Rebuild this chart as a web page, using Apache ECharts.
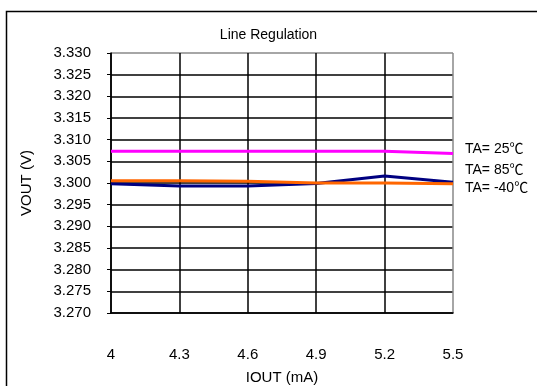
<!DOCTYPE html>
<html>
<head>
<meta charset="utf-8">
<script src="https://cdn.jsdelivr.net/npm/echarts@6/dist/echarts.min.js"></script>
<style>
  html, body { margin: 0; padding: 0; background: #fff; }
  #chart { width: 537px; height: 386px; }
</style>
</head>
<body>
<div id="chart"></div>
<script>
// IOUT (mA)
var iout = ['4', '4.3', '4.6', '4.9', '5.2', '5.5']
// VOUT (V) per temperature
var ta25 = [3.3073, 3.3073, 3.3073, 3.3073, 3.3073, 3.3068]
var ta85 = [3.2998, 3.2993, 3.2993, 3.2999, 3.3016, 3.3002]
var taM40 = [3.3005, 3.3005, 3.3004, 3.3000, 3.3000, 3.2998]
var seriesNames = ['TA= 25℃', 'TA= 85℃', 'TA= -40℃']

var font = '"Liberation Sans", Arial, "Noto Sans CJK SC", sans-serif'

function makeLine(name, data, color, offset) {
  return {
    name: name,
    type: 'line',
    data: data,
    symbol: 'none',
    smooth: false,
    lineStyle: { color: color, width: 3 },
    itemStyle: { color: color },
    endLabel: {
      show: true,
      formatter: name,
      color: '#000',
      fontFamily: font,
      fontSize: 14,
      offset: offset
    },
    animation: false,
    z: 5
  }
}

var chart = echarts.init(document.getElementById('chart'))
chart.setOption({
  backgroundColor: '#fff',
  animation: false,
  title: {
    text: 'Line Regulation',
    left: 'center',
    top: 23,
    textStyle: { fontFamily: font, fontSize: 14, fontWeight: 'normal', color: '#000' }
  },
  graphic: [{
    type: 'rect',
    shape: { x: 6.5, y: 11.5, width: 600, height: 500 },
    style: { fill: 'none', stroke: '#000', lineWidth: 1.5 },
    silent: true
  }],
  grid: { left: 111, right: 84, top: 53, bottom: 73, outerBoundsMode: 'none', containLabel: false },
  xAxis: {
    type: 'category',
    data: iout,
    boundaryGap: false,
    name: 'IOUT (mA)',
    nameLocation: 'middle',
    nameGap: 57,
    nameTextStyle: { fontFamily: font, fontSize: 15, color: '#000' },
    axisLine: { lineStyle: { color: '#000', width: 1.5 } },
    axisTick: { show: false },
    axisLabel: { margin: 34, fontFamily: font, fontSize: 15, color: '#000' },
    splitLine: {
      show: true,
      lineStyle: { color: ['#000', '#000', '#000', '#000', '#000', '#888'], width: 1.5 }
    }
  },
  yAxis: {
    type: 'value',
    min: 3.270,
    max: 3.330,
    interval: 0.005,
    name: 'VOUT (V)',
    nameLocation: 'middle',
    nameGap: 77,
    nameTextStyle: { fontFamily: font, fontSize: 15, color: '#000' },
    axisLine: { show: true, lineStyle: { color: '#000', width: 1.5 } },
    axisTick: { show: true, length: 4, lineStyle: { color: '#000' } },
    axisLabel: {
      margin: 20,
      fontFamily: font,
      fontSize: 15,
      color: '#000',
      formatter: function (v) { return v.toFixed(3) }
    },
    splitLine: {
      show: true,
      lineStyle: {
        color: ['#000', '#000', '#000', '#000', '#000', '#000', '#000', '#000', '#000', '#000', '#000', '#000', '#888'],
        width: 1.5
      }
    }
  },
  series: [
    makeLine(seriesNames[0], ta25, '#FF00FF', [4, -4]),
    makeLine(seriesNames[1], ta85, '#000080', [4, -12]),
    makeLine(seriesNames[2], taM40, '#FF6600', [4, 4])
  ]
})
</script>
</body>
</html>
